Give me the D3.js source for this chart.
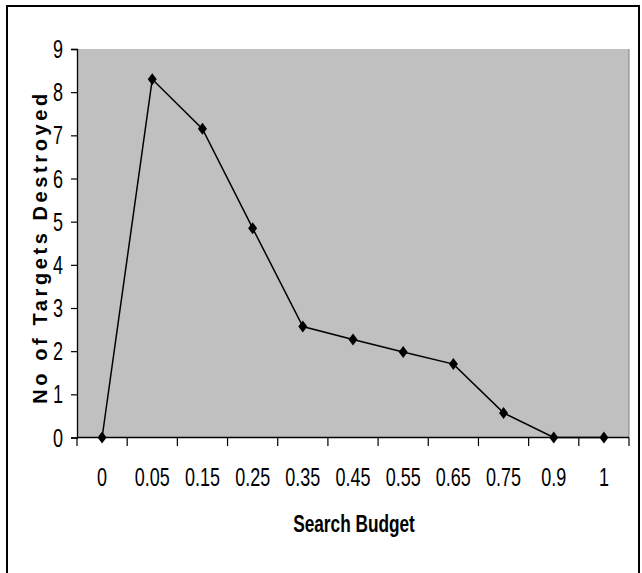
<!DOCTYPE html>
<html><head><meta charset="utf-8">
<script src="https://cdn.jsdelivr.net/npm/d3@7/dist/d3.min.js"></script>
<style>
html,body{margin:0;padding:0;background:#fff;}
svg{display:block;}
text{font-family:"Liberation Sans",Arial,sans-serif;}
</style></head>
<body>
<script>
const categories = ["0","0.05","0.15","0.25","0.35","0.45","0.55","0.65","0.75","0.9","1"];
const values = [0, 8.3, 7.15, 4.85, 2.57, 2.27, 1.98, 1.7, 0.57, 0, 0];
const yTicks = [0,1,2,3,4,5,6,7,8,9];
const xTitle = "Search Budget";
const yTitle = "No of Targets Destroyed";

const W = 642, H = 573;
const SX = 0.72; // horizontal condensing of the reference's lettering
const svg = d3.select("body").append("svg").attr("width", W).attr("height", H);

// outer frame
svg.append("rect").attr("x", 7).attr("y", 6).attr("width", 632).attr("height", 580)
  .attr("fill", "#fff").attr("stroke", "#000").attr("stroke-width", 2);

const pL = 77, pR = 629, pT = 49, pB = 437.5;
const x = d3.scaleBand().domain(categories).range([pL, pR]).padding(0);
const y = d3.scaleLinear().domain([0, 9]).range([pB, pT]);
const cx = c => x(c) + x.bandwidth() / 2;

svg.append("rect").attr("x", pL).attr("y", pT).attr("width", pR - pL).attr("height", pB - pT)
  .attr("fill", "#c0c0c0");
svg.append("line").attr("x1", pR).attr("x2", pR).attr("y1", pT).attr("y2", pB)
  .attr("stroke", "#808080").attr("stroke-width", 1);

// y axis (ticks + domain from d3, labels drawn condensed)
const yAxis = svg.append("g").attr("transform", `translate(${pL},0)`)
  .call(d3.axisLeft(y).tickValues(yTicks).tickSize(6).tickFormat(""));
yAxis.select(".domain").attr("stroke", "#000").attr("stroke-width", 1.3);
yAxis.selectAll(".tick line").attr("stroke", "#000").attr("stroke-width", 1.2);
svg.append("g").selectAll("g").data(yTicks).join("g")
  .attr("transform", d => `translate(63,${y(d)}) scale(${SX},1)`)
  .append("text").attr("text-anchor", "end").attr("dy", "0.36em")
  .attr("font-size", 25).attr("fill", "#000").text(d => d3.format("d")(d));

// x axis line and ticks at category boundaries
const xg = svg.append("g");
xg.append("line").attr("x1", pL).attr("x2", pR).attr("y1", pB).attr("y2", pB)
  .attr("stroke", "#000").attr("stroke-width", 1.5);
const bounds = categories.map(c => x(c)).concat([pR]);
xg.selectAll("line.tk").data(bounds).join("line").attr("class", "tk")
  .attr("x1", d => d).attr("x2", d => d).attr("y1", pB).attr("y2", pB + 8.5)
  .attr("stroke", "#000").attr("stroke-width", 1.2);
xg.selectAll("g.lb").data(categories).join("g").attr("class", "lb")
  .attr("transform", d => `translate(${cx(d)},486) scale(${SX},1)`)
  .append("text").attr("text-anchor", "middle").attr("font-size", 25).attr("fill", "#000")
  .text(d => d);

// titles
svg.append("g").attr("transform", `translate(354,532) scale(0.75,1)`)
  .append("text").attr("text-anchor", "middle")
  .attr("font-size", 23).attr("font-weight", "bold").text(xTitle);
svg.append("text").attr("transform", "translate(47,247) rotate(-90)")
  .attr("text-anchor", "middle").attr("font-size", 20).attr("font-weight", "bold")
  .attr("letter-spacing", 3.6)
  .text(yTitle);

// line
const line = d3.line().x((d, i) => cx(categories[i])).y(d => y(d));
svg.append("path").datum(values).attr("d", line).attr("fill", "none")
  .attr("stroke", "#000").attr("stroke-width", 1.5);

// markers (diamonds)
const diamond = "M0,-6L4.5,0L0,6L-4.5,0Z";
svg.selectAll("path.mk").data(values).join("path").attr("class", "mk")
  .attr("transform", (d, i) => `translate(${cx(categories[i])},${y(d)})`)
  .attr("d", diamond).attr("fill", "#000");
</script>
</body></html>
